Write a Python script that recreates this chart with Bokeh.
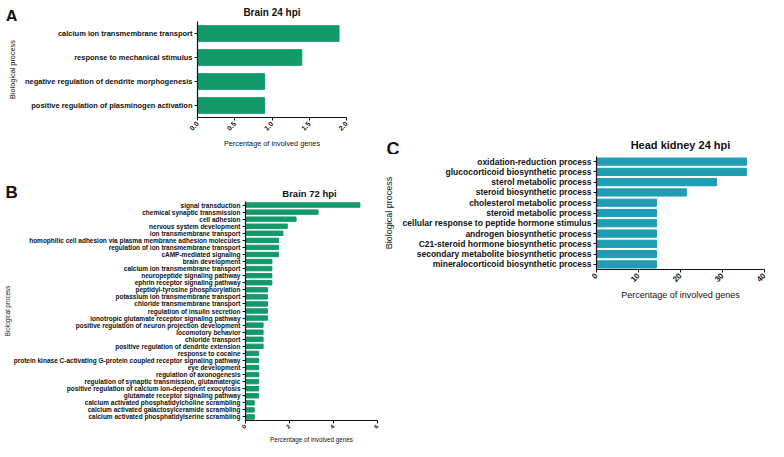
import math
from bokeh.plotting import figure
from bokeh.models import (FactorRange, Range1d, FixedTicker, PrintfTickFormatter,
                          ColumnDataSource)
from bokeh.core.properties import value
from bokeh.layouts import row, column
from bokeh.embed import file_html
from bokeh.resources import INLINE

FONT = "Liberation Sans"
GREEN = "#13996a"
TEAL = "#1e9db5"
INK = "#111111"

# ---------------- data ----------------
panel_letters = ["A", "B", "C"]
panel_titles = ["Brain 24 hpi", "Brain 72 hpi", "Head kidney 24 hpi"]

a_terms = [
    "calcium ion transmembrane transport",
    "response to mechanical stimulus",
    "negative regulation of dendrite morphogenesis",
    "positive regulation of plasminogen activation",
]
a_values = [1.9, 1.4, 0.9, 0.9]
a_ticks = [0.0, 0.5, 1.0, 1.5, 2.0]

b_terms = [
    "signal transduction",
    "chemical synaptic transmission",
    "cell adhesion",
    "nervous system development",
    "ion transmembrane transport",
    "homophilic cell adhesion via plasma membrane adhesion molecules",
    "regulation of ion transmembrane transport",
    "cAMP-mediated signaling",
    "brain development",
    "calcium ion transmembrane transport",
    "neuropeptide signaling pathway",
    "ephrin receptor signaling pathway",
    "peptidyl-tyrosine phosphorylation",
    "potassium ion transmembrane transport",
    "chloride transmembrane transport",
    "regulation of insulin secretion",
    "ionotropic glutamate receptor signaling pathway",
    "positive regulation of neuron projection development",
    "locomotory behavior",
    "chloride transport",
    "positive regulation of dendrite extension",
    "response to cocaine",
    "protein kinase C-activating G-protein coupled receptor signaling pathway",
    "eye development",
    "regulation of axonogenesis",
    "regulation of synaptic transmission, glutamatergic",
    "positive regulation of calcium ion-dependent exocytosis",
    "glutamate receptor signaling pathway",
    "calcium activated phosphatidylcholine scrambling",
    "calcium activated galactosylceramide scrambling",
    "calcium activated phosphatidylserine scrambling",
]
b_values = [5.2, 3.3, 2.3, 1.9, 1.7, 1.5, 1.5, 1.5, 1.2, 1.2, 1.2, 1.2,
            1.0, 1.0, 1.0, 1.0, 1.0, 0.8, 0.8, 0.8, 0.8,
            0.6, 0.6, 0.6, 0.6, 0.6, 0.6, 0.6, 0.4, 0.4, 0.4]
b_ticks = [0, 2, 4, 6]

c_terms = [
    "oxidation-reduction process",
    "glucocorticoid biosynthetic process",
    "sterol metabolic process",
    "steroid biosynthetic process",
    "cholesterol metabolic process",
    "steroid metabolic process",
    "cellular response to peptide hormone stimulus",
    "androgen biosynthetic process",
    "C21-steroid hormone biosynthetic process",
    "secondary metabolite biosynthetic process",
    "mineralocorticoid biosynthetic process",
]
c_values = [35.7, 35.7, 28.6, 21.4, 14.3, 14.3, 14.3, 14.3, 14.3, 14.3, 14.3]
c_ticks = [0, 10, 20, 30, 40]

y_title = "Biological process"
x_title = "Percentage of involved genes"


def panel(terms, vals, color, ticks, fmt, fw, fh, bl, br, bt, bb,
          lab_fs, tick_fs, axt_fs, bar_h, ylab_standoff, xlab_standoff):
    src = ColumnDataSource(dict(term=terms, val=vals))
    p = figure(y_range=FactorRange(factors=list(reversed(terms))),
               x_range=Range1d(ticks[0], ticks[-1]),
               frame_width=fw, frame_height=fh,
               min_border_left=bl, min_border_right=br,
               min_border_top=bt, min_border_bottom=bb,
               output_backend="svg", toolbar_location=None,
               background_fill_color="white", border_fill_color="white")
    p.hbar(y="term", right="val", left=0, height=bar_h, source=src,
           fill_color=color, line_color=color)
    p.grid.visible = False
    p.outline_line_color = None
    for ax in (p.xaxis[0], p.yaxis[0]):
        ax.axis_line_color = INK
        ax.axis_line_width = 1.2
        ax.major_tick_line_color = INK
        ax.major_tick_in = 0
        ax.major_tick_out = 3
        ax.minor_tick_line_color = None
        ax.major_label_text_font = FONT
        ax.major_label_text_font_style = "bold"
        ax.major_label_text_color = INK
        ax.axis_label_text_font = FONT
        ax.axis_label_text_font_style = "normal"
        ax.axis_label_text_color = INK
        ax.major_label_standoff = 2
    p.yaxis.major_label_text_font_size = f"{lab_fs}px"
    p.yaxis.axis_label = y_title
    p.yaxis.axis_label_text_font_size = f"{axt_fs}px"
    p.yaxis.axis_label_standoff = ylab_standoff
    p.xaxis.ticker = FixedTicker(ticks=ticks)
    p.xaxis.formatter = PrintfTickFormatter(format=fmt)
    p.xaxis.major_label_orientation = math.pi / 4
    p.xaxis.major_label_text_font_size = f"{tick_fs}px"
    p.xaxis.axis_label = x_title
    p.xaxis.axis_label_text_font_size = f"{axt_fs}px"
    p.xaxis.axis_label_standoff = xlab_standoff
    return p


def header(w, h, letter, lx, ly, lfs, title, tx, ty, tfs):
    """A strip holding the panel letter and the panel title."""
    p = figure(width=w, height=h, x_range=Range1d(0, w), y_range=Range1d(0, h),
               x_axis_location=None, y_axis_location=None,
               min_border_left=0, min_border_right=0, min_border_top=0,
               min_border_bottom=0, output_backend="svg", toolbar_location=None,
               background_fill_color="white", border_fill_color="white")
    p.grid.visible = False
    p.outline_line_color = None
    p.text(x=[lx], y=[ly], text=[letter], text_font=value(FONT),
           text_font_style="bold", text_font_size=f"{lfs}px", text_color=INK,
           text_align="left", text_baseline="alphabetic")
    p.text(x=[tx], y=[ty], text=[title], text_font=value(FONT),
           text_font_style="bold", text_font_size=f"{tfs}px", text_color=INK,
           text_align="center", text_baseline="alphabetic")
    return p


# ---- panel A (left column, top) ----
A_BL, A_FW = 197, 149
hA = header(377, 21, panel_letters[0], 5, 5, 17,
            panel_titles[0], A_BL + A_FW / 2, 9, 10)
pa = panel(a_terms, a_values, GREEN, a_ticks, "%.1f",
           fw=A_FW, fh=96, bl=A_BL, br=377 - A_BL - A_FW, bt=0, bb=28,
           lab_fs=7.5, tick_fs=7, axt_fs=7.3, bar_h=0.65,
           ylab_standoff=5, xlab_standoff=3)

# ---- panel B (left column, bottom) ----
B_BL, B_FW = 243, 132
hB = header(377, 49, panel_letters[1], 5, 7, 17,
            panel_titles[1], B_BL + B_FW / 2, 6.5, 9.5)
pb = panel(b_terms, b_values, GREEN, b_ticks, "%d",
           fw=B_FW, fh=219, bl=B_BL, br=377 - B_BL - B_FW, bt=2, bb=26,
           lab_fs=6.5, tick_fs=6, axt_fs=6.3, bar_h=0.62,
           ylab_standoff=0, xlab_standoff=2)

# ---- panel C (right column) ----
C_BL, C_FW = 217, 168
hC = header(391, 154, panel_letters[2], 7, 6, 18,
            panel_titles[2], C_BL + C_FW / 2, 10, 11)
pc = panel(c_terms, c_values, TEAL, c_ticks, "%d",
           fw=C_FW, fh=113, bl=C_BL, br=391 - C_BL - C_FW, bt=2, bb=35,
           lab_fs=8.5, tick_fs=8, axt_fs=9, bar_h=0.7,
           ylab_standoff=6, xlab_standoff=3)

left = column(row(hA), row(pa), row(hB), row(pb))
right = column(row(hC), row(pc))
layout = row(left, right)

open("out.html", "w").write(file_html(layout, INLINE))
